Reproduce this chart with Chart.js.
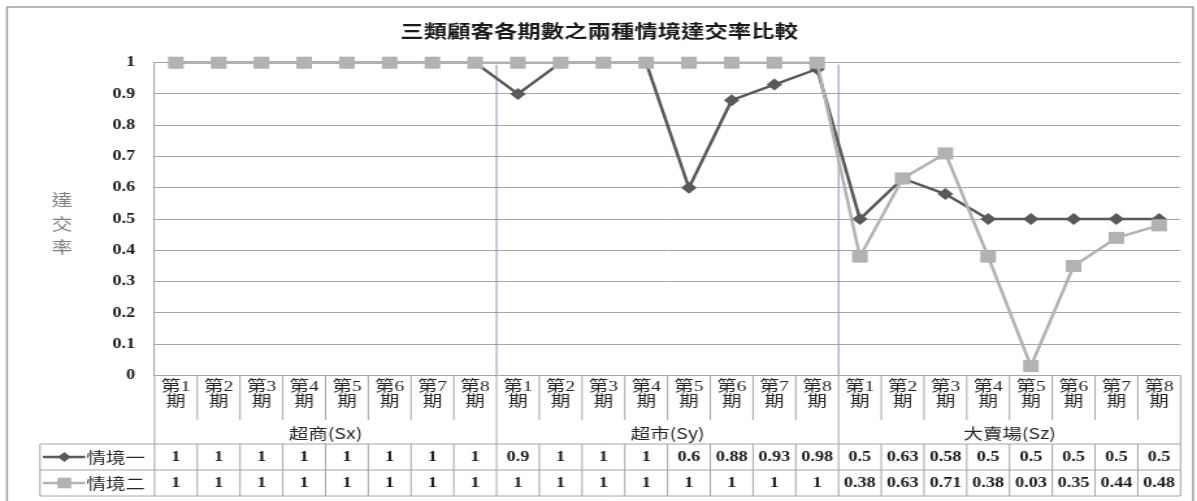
<!DOCTYPE html>
<html lang="zh-Hant">
<head>
<meta charset="UTF-8">
<title>三類顧客各期數之兩種情境達交率比較</title>
<script src="https://cdn.jsdelivr.net/npm/chart.js"></script>
<style>
  html, body { margin: 0; padding: 0; background: #fff; overflow: hidden; }
  #wrap { width: 1197px; height: 501px; overflow: hidden; }
  /* the reference picture is stretched sideways, so the canvas is too */
  #rate { display: block; transform: scaleX(1.2997); transform-origin: 0 0; }
</style>
</head>
<body>
<div id="wrap"><canvas id="rate" width="921" height="501"></canvas></div>
<script>
    const chartTitle = '三類顧客各期數之兩種情境達交率比較';
    const yTitle = '達交率';
    const periods = ['第1期', '第2期', '第3期', '第4期', '第5期', '第6期', '第7期', '第8期'];
    const groups = ['超商(Sx)', '超市(Sy)', '大賣場(Sz)'];
    const categories = groups.flatMap(() => periods);
    const seriesNames = ['情境一', '情境二'];
    const scenario1 = [1, 1, 1, 1, 1, 1, 1, 1,
                       0.9, 1, 1, 1, 0.6, 0.88, 0.93, 0.98,
                       0.5, 0.63, 0.58, 0.5, 0.5, 0.5, 0.5, 0.5];
    const scenario2 = [1, 1, 1, 1, 1, 1, 1, 1,
                       1, 1, 1, 1, 1, 1, 1, 1,
                       0.38, 0.63, 0.71, 0.38, 0.03, 0.35, 0.44, 0.48];
    const yTickLabels = ['0', '0.1', '0.2', '0.3', '0.4', '0.5', '0.6', '0.7', '0.8', '0.9', '1'];

    const color1 = '#595959';
    const color2 = '#b2b2b2';
    const lineGray = '#a6a6a6';
    const cjk = '"Noto Sans CJK TC", "Noto Sans CJK SC", sans-serif';

    function marker(ctx, style, x, y, r, col) {
        ctx.fillStyle = col;
        ctx.beginPath();
        if (style === 'rectRot') {
            ctx.moveTo(x, y - r); ctx.lineTo(x + r, y); ctx.lineTo(x, y + r); ctx.lineTo(x - r, y);
            ctx.closePath();
        } else {
            const s = r * Math.SQRT1_2;
            ctx.rect(x - s, y - s, 2 * s, 2 * s);
        }
        ctx.fill();
    }

    // frame, group separators, title, axis title and the data table under the plot
    const excelBits = {
        id: 'excelBits',
        beforeDraw(chart) {
            const ctx = chart.ctx;
            ctx.save();
            ctx.fillStyle = '#fff';
            ctx.fillRect(0, 0, chart.width, chart.height);
            ctx.strokeStyle = '#a0a0a0';
            ctx.lineWidth = 1.5;
            ctx.strokeRect(5.4, 7, 912.5, 500);
            ctx.restore();
        },
        beforeDatasetsDraw(chart) {
            const ctx = chart.ctx, x = chart.scales.x, area = chart.chartArea;
            ctx.save();
            ctx.strokeStyle = '#8f8fc2';
            ctx.lineWidth = 1;
            [8, 16].forEach(i => {
                const bx = (x.getPixelForValue(i - 1) + x.getPixelForValue(i)) / 2;
                ctx.beginPath();
                ctx.moveTo(bx, area.top + 2);
                ctx.lineTo(bx, area.bottom);
                ctx.stroke();
            });
            ctx.restore();
        },
        afterDraw(chart) {
            const ctx = chart.ctx, x = chart.scales.x, area = chart.chartArea;
            const n = categories.length;
            const edges = [];
            for (let i = 0; i <= n; i++) {
                if (i === 0) edges.push(area.left);
                else if (i === n) edges.push(area.right);
                else edges.push((x.getPixelForValue(i - 1) + x.getPixelForValue(i)) / 2);
            }
            const top = area.bottom;
            const catBottom = top + 44.5;
            const groupBottom = top + 68.5;
            const row1Bottom = top + 94.5;
            const row2Bottom = top + 120.5;
            const legendLeft = 30.8;

            ctx.save();
            // title
            ctx.fillStyle = '#1a1a1a';
            ctx.font = 'bold 18px ' + cjk;
            ctx.textAlign = 'center';
            ctx.textBaseline = 'middle';
            ctx.fillText(chartTitle, 461, 31);

            // vertical axis title, one character per line
            ctx.fillStyle = '#7f7f7f';
            ctx.font = '16px ' + cjk;
            Array.from(yTitle).forEach((ch, k) => ctx.fillText(ch, 47.7, 200 + k * 23.5));

            // table lines
            ctx.strokeStyle = lineGray;
            ctx.lineWidth = 1;
            const seg = (x1, y1, x2, y2) => {
                ctx.beginPath(); ctx.moveTo(x1, y1); ctx.lineTo(x2, y2); ctx.stroke();
            };
            edges.forEach((ex, i) => {
                if (i === 0 || i === n || i % periods.length === 0) {
                    seg(ex, top, ex, row2Bottom);
                } else {
                    seg(ex, top, ex, catBottom);
                    seg(ex, groupBottom, ex, row2Bottom);
                }
            });
            [groupBottom, row1Bottom, row2Bottom].forEach(yy => seg(legendLeft, yy, area.right, yy));
            seg(legendLeft, groupBottom, legendLeft, row2Bottom);

            // category labels
            ctx.fillStyle = '#262626';
            ctx.font = '15px "Liberation Serif", ' + cjk;
            categories.forEach((c, i) => {
                const cx = x.getPixelForValue(i);
                ctx.fillText(c.slice(0, -1), cx, top + 11.5);
                ctx.fillText(c.slice(-1), cx, top + 27);
            });

            // group labels
            ctx.font = '15px ' + cjk;
            groups.forEach((g, k) => {
                const gx = (edges[k * periods.length] + edges[(k + 1) * periods.length]) / 2;
                ctx.fillText(g, gx, top + 57.5);
            });

            // values
            ctx.fillStyle = '#1a1a1a';
            ctx.font = 'bold 14px "Liberation Serif"';
            [scenario1, scenario2].forEach((vals, r) => {
                const yy = top + 81.5 + r * 26;
                vals.forEach((v, i) => ctx.fillText(String(v), x.getPixelForValue(i), yy));
            });

            // legend keys
            const keys = [[color1, 'rectRot', 5], [color2, 'rect', 7.5]];
            keys.forEach(([col, style, r], k) => {
                const yy = top + 81.5 + k * 26;
                ctx.strokeStyle = col;
                ctx.lineWidth = 2.5;
                seg(33, yy, 65.5, yy);
                marker(ctx, style, 49.5, yy, r, col);
                ctx.fillStyle = '#262626';
                ctx.font = '15px ' + cjk;
                ctx.textAlign = 'left';
                ctx.fillText(seriesNames[k], 66.5, yy);
                ctx.textAlign = 'center';
            });
            ctx.restore();
        }
    };

    const ctx = document.getElementById('rate').getContext('2d');
    const rateChart = new Chart(ctx, {
        type: 'line',
        data: {
            labels: categories,
            datasets: [{
                label: seriesNames[0],
                data: scenario1,
                borderColor: color1,
                backgroundColor: color1,
                borderWidth: 2.5,
                pointStyle: 'rectRot',
                pointRadius: 6,
                pointBorderWidth: 0,
                tension: 0,
                clip: false,
                order: 1
            }, {
                label: seriesNames[1],
                data: scenario2,
                borderColor: color2,
                backgroundColor: color2,
                borderWidth: 2.5,
                pointStyle: 'rect',
                pointRadius: 8.5,
                pointBorderWidth: 0,
                tension: 0,
                clip: false,
                order: 0
            }]
        },
        options: {
            responsive: false,
            animation: false,
            devicePixelRatio: 1,
            layout: { padding: { left: 5, top: 62.7, right: 12.7, bottom: 125.5 } },
            plugins: {
                legend: { display: false },
                title: { display: false },
                tooltip: { enabled: false }
            },
            scales: {
                x: { type: 'category', display: false, offset: true },
                y: {
                    min: 0,
                    max: 1,
                    ticks: {
                        stepSize: 0.1,
                        padding: 15,
                        color: '#1a1a1a',
                        font: { family: 'Liberation Serif', size: 14, weight: 'bold' },
                        callback: (v, i) => yTickLabels[i]
                    },
                    grid: { color: lineGray, lineWidth: 1, drawTicks: false },
                    border: { display: true, color: lineGray, width: 1 },
                    afterFit(scale) { scale.width = 113.9; }
                }
            }
        },
        plugins: [excelBits]
    });
</script>
</body>
</html>
